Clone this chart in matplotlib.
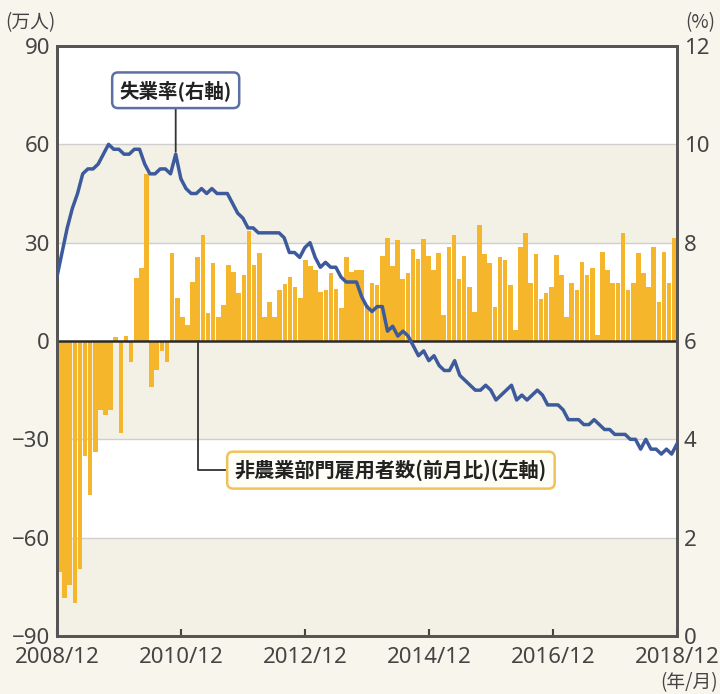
import numpy as np
import matplotlib
matplotlib.use("Agg")
import matplotlib.pyplot as plt

plt.rcParams["font.family"] = ["Noto Sans CJK JP", "DejaVu Sans"]

# 非農業部門雇用者数(前月比, 万人) 2008/12 - 2018/12
payroll = [
    -70.6,
    -78.4, -74.3, -80.0, -69.5, -35.0, -47.0, -34.0, -21.0, -22.5, -21.0, 1.2, -28.0,
    1.5, -6.5, 19.2, 22.3, 51.0, -14.0, -8.7, -3.0, -6.4, 27.0, 13.0, 7.3,
    4.9, 18.0, 25.6, 32.3, 8.5, 23.8, 7.3, 11.0, 23.2, 21.0, 14.6, 20.1,
    33.5, 23.2, 26.9, 7.3, 11.9, 7.3, 15.6, 17.5, 19.5, 16.4, 13.2, 24.7,
    23.0, 21.7, 15.0, 15.6, 20.6, 16.0, 10.0, 25.7, 21.2, 21.7, 21.7, 11.0,
    17.6, 17.0, 26.0, 31.3, 23.0, 30.8, 19.0, 20.6, 28.0, 25.0, 31.0, 26.0,
    21.7, 26.7, 7.9, 28.8, 32.3, 19.0, 26.0, 16.6, 8.9, 35.4, 26.6, 23.7,
    10.5, 25.7, 24.7, 17.1, 3.4, 28.8, 32.8, 17.6, 26.6, 12.8, 14.6, 16.6,
    26.2, 20.0, 7.4, 17.6, 15.6, 24.2, 20.2, 22.2, 1.8, 27.3, 21.7, 17.6,
    17.6, 32.8, 15.6, 17.6, 26.7, 20.6, 16.6, 28.8, 12.0, 27.3, 17.6, 31.3,
]

# 失業率(%)
unemp = [
    7.3,
    7.8, 8.3, 8.7, 9.0, 9.4, 9.5, 9.5, 9.6, 9.8, 10.0, 9.9, 9.9,
    9.8, 9.8, 9.9, 9.9, 9.6, 9.4, 9.4, 9.5, 9.5, 9.4, 9.8, 9.3,
    9.1, 9.0, 9.0, 9.1, 9.0, 9.1, 9.0, 9.0, 9.0, 8.8, 8.6, 8.5,
    8.3, 8.3, 8.2, 8.2, 8.2, 8.2, 8.2, 8.1, 7.8, 7.8, 7.7, 7.9,
    8.0, 7.7, 7.5, 7.6, 7.5, 7.5, 7.3, 7.2, 7.2, 7.2, 6.9, 6.7,
    6.6, 6.7, 6.7, 6.2, 6.3, 6.1, 6.2, 6.1, 5.9, 5.7, 5.8, 5.6,
    5.7, 5.5, 5.4, 5.4, 5.6, 5.3, 5.2, 5.1, 5.0, 5.0, 5.1, 5.0,
    4.8, 4.9, 5.0, 5.1, 4.8, 4.9, 4.8, 4.9, 5.0, 4.9, 4.7, 4.7,
    4.7, 4.6, 4.4, 4.4, 4.4, 4.3, 4.3, 4.4, 4.3, 4.2, 4.2, 4.1,
    4.1, 4.1, 4.0, 4.0, 3.8, 4.0, 3.8, 3.8, 3.7, 3.8, 3.7, 3.9,
]

xtick_labels = ["2008/12", "2010/12", "2012/12", "2014/12", "2016/12", "2018/12"]
left_ticks = [90, 60, 30, 0, -30, -60, -90]
right_ticks = [12, 10, 8, 6, 4, 2, 0]

BG = "#f7f5ec"
BAND = "#f3f1e5"
BAR = "#f6b62c"
LINE = "#3c5a9c"
TXT = "#444444"
TICKFONT = "Noto Sans"

n = len(payroll)
idx = np.arange(n)
x_line = idx * n / (n - 1) - 0.5   # 折れ線は軸の端から端まで

fig = plt.figure(figsize=(7.2, 6.94), dpi=100, facecolor=BG)
ax = fig.add_axes([0.079, 0.0836, 0.861, 0.8501])
ax.set_facecolor("white")

# 背景の帯
for lo, hi in [(30, 60), (-30, 0), (-90, -60)]:
    ax.axhspan(lo, hi, color=BAND, zorder=0, lw=0)
for v in [60, 30, -30, -60]:
    ax.axhline(v, color="#cfcfcf", lw=1.0, zorder=0.5)

ax.bar(idx, payroll, width=0.9, color=BAR, edgecolor="none", zorder=2)
ax.axhline(0, color="#2a2a2a", lw=1.8, zorder=3)

ax.set_xlim(-0.5, n - 0.5)
ax.set_ylim(-90, 90)
ax.set_yticks(left_ticks)
ax.set_yticklabels([str(v).replace("-", "−") for v in left_ticks], family=TICKFONT)
ax.set_xticks(np.linspace(-0.5, n - 0.5, len(xtick_labels)))
ax.set_xticklabels(xtick_labels, family=TICKFONT)
ax.tick_params(axis="x", direction="in", length=5, width=1.5, color="#444444",
               labelsize=16, labelcolor=TXT, pad=8)
ax.tick_params(axis="y", length=0, labelsize=16, labelcolor=TXT, pad=5)

ax2 = ax.twinx()
ax2.set_ylim(0, 12)
ax2.set_yticks(right_ticks)
ax2.set_yticklabels([str(v) for v in right_ticks], family=TICKFONT)
ax2.tick_params(axis="y", length=0, labelsize=16, labelcolor=TXT, pad=5)
ax2.plot(x_line, unemp, color=LINE, lw=2.5, zorder=4, solid_joinstyle="round")

for a in (ax, ax2):
    for s in a.spines.values():
        s.set_color("#555555")
        s.set_linewidth(2.0)

# 注記
ax2.annotate("失業率(右軸)", xy=(x_line[23], unemp[23] + 0.05), xytext=(x_line[23], 11.1),
             ha="center", va="center", fontsize=14, fontweight="bold", color="#222222",
             bbox=dict(boxstyle="round,pad=0.38,rounding_size=0.3", fc="white",
                       ec="#5d70a3", lw=1.8),
             arrowprops=dict(arrowstyle="-", color="#333333", lw=1.3, shrinkA=0, shrinkB=0),
             zorder=6)

ax.annotate("非農業部門雇用者数(前月比)(左軸)", xy=(27.0, 0), xytext=(64.7, -39.4),
            ha="center", va="center", fontsize=14.5, fontweight="bold", color="#222222",
            bbox=dict(boxstyle="round,pad=0.38,rounding_size=0.3", fc="#fffef6",
                      ec="#f0c35a", lw=1.8),
            arrowprops=dict(arrowstyle="-", color="#333333", lw=1.3, shrinkA=0, shrinkB=0,
                            connectionstyle="angle,angleA=0,angleB=90,rad=0"),
            zorder=6)

fig.text(0.007, 0.968, "(万人)", fontsize=13.5, color=TXT, ha="left", va="center")
fig.text(0.993, 0.968, "(%)", fontsize=13.5, color=TXT, ha="right", va="center")
fig.text(0.997, 0.001, "(年/月)", fontsize=13.5, color=TXT, ha="right", va="bottom")

fig.savefig("out.png", dpi=100, facecolor=BG)
